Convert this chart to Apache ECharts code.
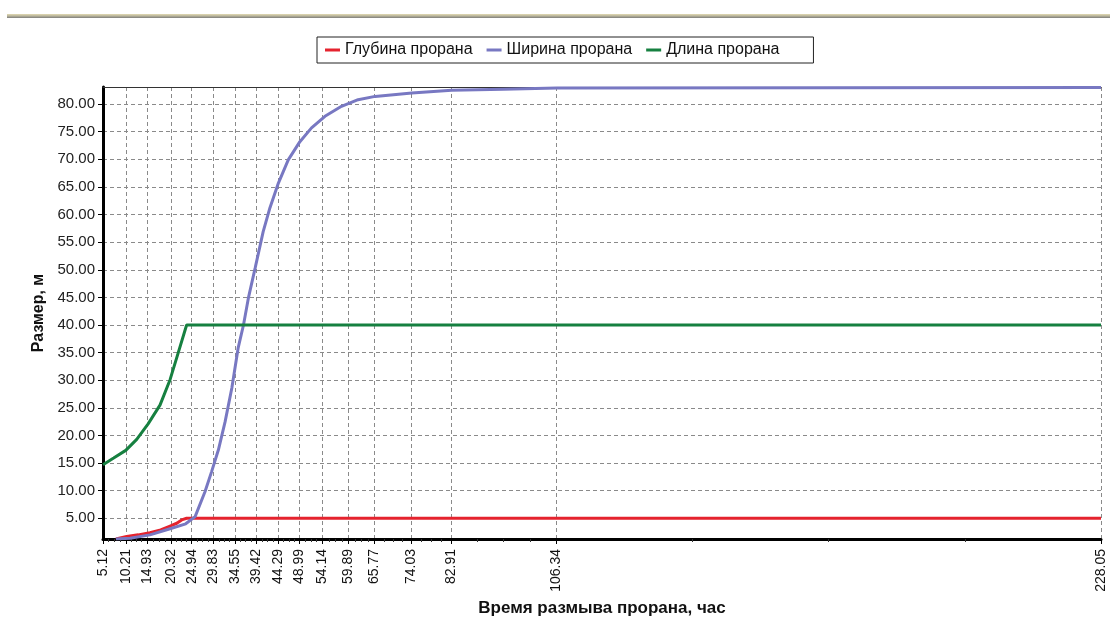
<!DOCTYPE html>
<html>
<head>
<meta charset="utf-8">
<title>Размеры прорана</title>
<script src="https://cdn.jsdelivr.net/npm/echarts@6/dist/echarts.min.js"></script>
<style>
    html, body { margin: 0; padding: 0; background: #fff; }
    #chart { width: 1110px; height: 620px; }
</style>
</head>
<body>
<div id="chart"></div>
<script>
// подписи оси времени (час)
const timeTicks = [5.12, 10.21, 14.93, 20.32, 24.94, 29.83, 34.55, 39.42, 44.29, 48.99,
    54.14, 59.89, 65.77, 74.03, 82.91, 106.34, 228.05];
const sizeTicks = [5, 10, 15, 20, 25, 30, 35, 40, 45, 50, 55, 60, 65, 70, 75, 80];

// Глубина прорана
const depthTime = [8.0, 10.4, 13.0, 15.6, 18.0, 20.1, 21.6, 22.7, 23.8, 228.05];
const depthValue = [1.27, 1.7, 2.0, 2.4, 2.9, 3.6, 4.1, 4.7, 5.0, 5.0];

// Ширина прорана
const widthTime = [8.0, 11.15, 15.6, 20.1, 23.6, 25.7, 27.9, 29.4, 30.9, 32.4, 33.9, 35.3,
    36.5, 37.6, 39.1, 40.9, 42.4, 44.3, 46.5, 49.1, 51.7, 54.7, 58.4, 62.1, 65.9, 74.1,
    83.0, 94.5, 106.5, 228.05];
const widthValue = [1.27, 1.4, 2.0, 3.1, 4.0, 5.3, 9.8, 13.5, 17.4, 22.5, 28.6, 35.8,
    40.0, 44.9, 50.3, 56.9, 61.2, 65.7, 69.9, 73.2, 75.7, 77.8, 79.6, 80.8, 81.4, 82.0,
    82.5, 82.7, 82.9, 83.0];

// Длина прорана
const lengthTime = [5.12, 7.5, 10.2, 12.65, 15.2, 17.85, 20.1, 21.9, 23.8, 228.05];
const lengthValue = [14.7, 15.9, 17.3, 19.3, 22.1, 25.5, 30.1, 34.9, 40.0, 40.0];

const pairs = (xs, ys) => xs.map((x, i) => [x, ys[i]]);

// мелкие засечки: по 4 деления между подписями
const minorTicks = [];
for (let i = 0; i < timeTicks.length - 1; i++) {
    const step = (timeTicks[i + 1] - timeTicks[i]) / 4;
    for (let k = 1; k < 4; k++) minorTicks.push(timeTicks[i] + step * k);
}

const font = '"Liberation Sans", Arial, sans-serif';
const xMin = 5.12, xMax = 228.05, yMin = 1.25, yMax = 83.1;

const chart = echarts.init(document.getElementById('chart'));
chart.setOption({
    animation: false,
    textStyle: { fontFamily: font },
    color: ['#e5232e', '#7878c2', '#168040'],
    graphic: [{
        type: 'rect',
        shape: { x: 7, y: 14, width: 1103, height: 4 },
        style: {
            fill: new echarts.graphic.LinearGradient(0, 0, 0, 1, [
                { offset: 0, color: '#e2dab4' },
                { offset: 0.5, color: '#b8b49a' },
                { offset: 1, color: '#7c7c7c' }
            ])
        }
    }],
    legend: {
        left: 317,
        top: 37,
        padding: [5, 34, 5, 8],
        borderColor: '#222',
        borderWidth: 1,
        itemWidth: 15,
        itemHeight: 3,
        itemGap: 14,
        icon: 'rect',
        textStyle: { color: '#111', fontSize: 16, fontFamily: font }
    },
    grid: { left: 103, right: 9, top: 87, bottom: 81, outerBoundsMode: 'none' },
    xAxis: [{
        type: 'value',
        min: xMin,
        max: xMax,
        name: 'Время размыва прорана, час',
        nameLocation: 'middle',
        nameGap: 61,
        nameTextStyle: { color: '#111', fontSize: 17, fontWeight: 'bold' },
        axisLine: { lineStyle: { color: '#000', width: 3 } },
        axisTick: { length: 5, customValues: timeTicks, lineStyle: { color: '#000' } },
        axisLabel: {
            customValues: timeTicks,
            rotate: 90,
            margin: 10,
            color: '#111',
            fontSize: 14,
            formatter: v => v.toFixed(2)
        },
        splitLine: { show: true, lineStyle: { color: '#8a8a8a', type: [4, 3] } }
    }, {
        type: 'value',
        min: xMin,
        max: xMax,
        position: 'bottom',
        axisLine: { show: false },
        axisTick: { length: 3, customValues: minorTicks, lineStyle: { color: '#333' } },
        axisLabel: { show: false },
        splitLine: { show: false }
    }, {
        type: 'value',
        min: xMin,
        max: xMax,
        position: 'top',
        axisLine: { lineStyle: { color: '#333', width: 1 } },
        axisTick: { show: false },
        axisLabel: { show: false },
        splitLine: { show: false }
    }],
    yAxis: {
        type: 'value',
        min: yMin,
        max: yMax,
        name: 'Размер, м',
        nameLocation: 'middle',
        nameGap: 43,
        nameTextStyle: { color: '#111', fontSize: 16, fontWeight: 'bold' },
        axisLine: { show: true, lineStyle: { color: '#000', width: 3 } },
        axisTick: { show: true, length: 5, customValues: sizeTicks, lineStyle: { color: '#000' } },
        axisLabel: {
            customValues: sizeTicks,
            margin: 8,
            color: '#222',
            fontSize: 15,
            formatter: v => v.toFixed(2)
        },
        splitLine: { show: true, lineStyle: { color: '#8a8a8a', type: [4, 3] } }
    },
    series: [{
        name: 'Глубина прорана',
        type: 'line',
        showSymbol: false,
        lineStyle: { width: 3 },
        data: pairs(depthTime, depthValue)
    }, {
        name: 'Ширина прорана',
        type: 'line',
        showSymbol: false,
        lineStyle: { width: 3 },
        data: pairs(widthTime, widthValue)
    }, {
        name: 'Длина прорана',
        type: 'line',
        showSymbol: false,
        lineStyle: { width: 3 },
        data: pairs(lengthTime, lengthValue)
    }]
});
</script>
</body>
</html>
